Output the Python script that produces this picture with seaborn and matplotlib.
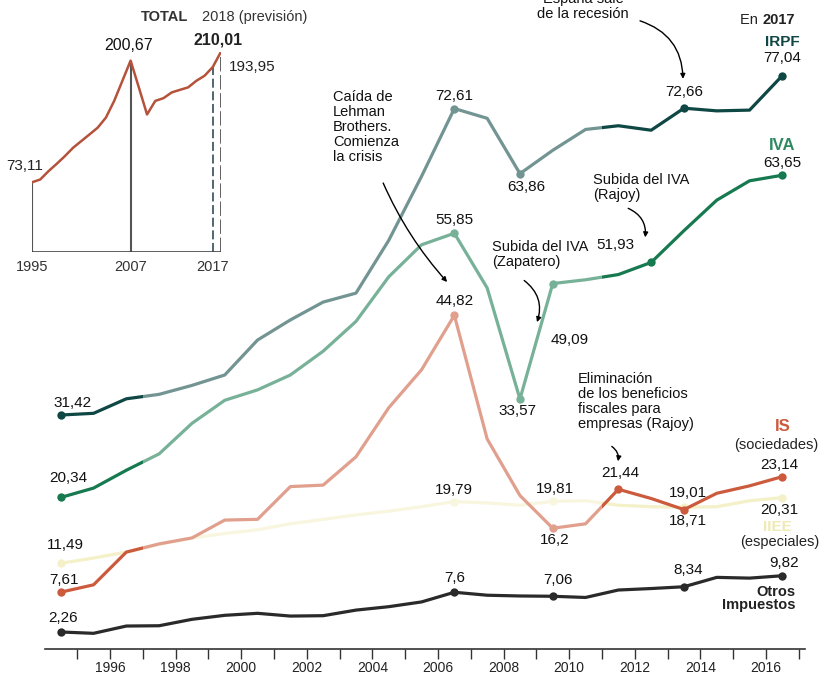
import pandas as pd
import matplotlib
matplotlib.use("Agg")
import matplotlib.pyplot as plt
import seaborn as sns
from matplotlib.patches import Rectangle

# Recaudación por impuesto (miles de millones de euros)
years = list(range(1995, 2018))
irpf = [31.42, 31.65, 33.6, 34.2, 35.4, 36.8, 41.5, 44.2, 46.6, 47.8, 54.9, 63.5,
        72.61, 71.3, 63.86, 67.0, 69.8, 70.3, 69.7, 72.66, 72.3, 72.4, 77.04]
iva = [20.34, 21.6, 24.0, 26.2, 30.3, 33.4, 34.8, 36.8, 40.0, 44.0, 50.0, 54.3,
       55.85, 48.5, 33.57, 49.09, 49.6, 50.3, 51.93, 56.2, 60.3, 62.9, 63.65]
is_soc = [7.61, 8.6, 13.0, 14.1, 14.9, 17.3, 17.4, 21.8, 22.0, 25.8, 32.4, 37.5,
          44.82, 28.2, 20.6, 16.2, 16.8, 21.44, 20.2, 18.71, 20.9, 21.9, 23.14]
iiee = [11.49, 12.2, 13.0, 14.0, 14.9, 15.5, 16.0, 16.8, 17.4, 18.0, 18.5, 19.1,
        19.79, 19.6, 19.3, 19.81, 19.9, 19.3, 19.1, 19.01, 19.1, 19.9, 20.31]
otros = [2.26, 2.08, 3.06, 3.1, 3.96, 4.5, 4.77, 4.4, 4.45, 5.2, 5.66, 6.3,
         7.6, 7.2, 7.1, 7.06, 6.9, 7.9, 8.1, 8.34, 9.6, 9.5, 9.82]

# Total (inset), 2018 = previsión
total_years = list(range(1995, 2019))
total = [73.11, 76.0, 84.7, 92.4, 100.5, 109.3, 116.3, 123.3, 130.4, 141.0, 158.4, 179.5,
         200.67, 172.6, 144.2, 158.4, 161.3, 167.3, 170.0, 172.6, 179.5, 184.8, 193.95, 210.01]

series = {'IIEE': iiee, 'Otros': otros, 'IS': is_soc, 'IVA': iva, 'IRPF': irpf}
colors = {'IRPF': '#0e4744', 'IVA': '#16794f', 'IS': '#cc5a3d',
          'IIEE': '#f4f0c8', 'Otros': '#2a2a2a'}

# labelled points: serie, año, texto, desplazamiento (px)
labels = [
    ('IIEE', 1995, '11,49', 5, 18), ('IIEE', 2007, '19,79', 0, 12),
    ('IIEE', 2010, '19,81', 2, 12), ('IIEE', 2014, '19,01', 4, 14),
    ('IIEE', 2017, '20,31', -3, -12),
    ('Otros', 1995, '2,26', 2, 14), ('Otros', 2007, '7,6', 0, 14),
    ('Otros', 2010, '7,06', 5, 16), ('Otros', 2014, '8,34', 4, 17),
    ('Otros', 2017, '9,82', 2, 13),
    ('IS', 1995, '7,61', 3, 12), ('IS', 2007, '44,82', 0, 14),
    ('IS', 2010, '16,2', 2, -12), ('IS', 2012, '21,44', 2, 16),
    ('IS', 2014, '18,71', 4, -11), ('IS', 2017, '23,14', -3, 12),
    ('IVA', 1995, '20,34', 8, 19), ('IVA', 2007, '55,85', 0, 13),
    ('IVA', 2009, '33,57', -3, -12), ('IVA', 2010, '49,09', 17, -56),
    ('IVA', 2013, '51,93', -36, 17), ('IVA', 2017, '63,65', 0, 12),
    ('IRPF', 1995, '31,42', 12, 12), ('IRPF', 2007, '72,61', 0, 13),
    ('IRPF', 2009, '63,86', 6, -13), ('IRPF', 2014, '72,66', 0, 16),
    ('IRPF', 2017, '77,04', 0, 18),
]

sns.set_theme(style="white")
plt.rcParams['font.family'] = ['Liberation Sans', 'DejaVu Sans']

fig = plt.figure(figsize=(8.21, 6.78), dpi=100)
ax = fig.add_axes([45 / 821, 1 - 648.8 / 678, 760 / 821, 648.8 / 678])

df = pd.DataFrame({'year': years, **series})
df = df.melt(id_vars='year', var_name='impuesto', value_name='valor')
df['x'] = df['year'] - 0.5

# one call per series so the stacking order is explicit
for i, name in enumerate(series):
    sns.lineplot(data=df[df['impuesto'] == name], x='x', y='valor',
                 color=colors[name], linewidth=2.3, ax=ax, zorder=2 + i * 0.1)

# dots on the labelled points
pts = pd.DataFrame([(s, y, series[s][years.index(y)]) for s, y, *_ in labels],
                   columns=['impuesto', 'year', 'valor'])
pts['x'] = pts['year'] - 0.5
for i, name in enumerate(series):
    sns.scatterplot(data=pts[pts['impuesto'] == name], x='x', y='valor',
                    color=colors[name], s=36, linewidth=0, ax=ax,
                    zorder=2.05 + i * 0.1)

# washed-out middle section
ax.add_patch(Rectangle((1997.0, 9.6), 14.0, 80, color='white', alpha=0.42,
                       lw=0, zorder=3))

for s, y, txt, dx, dy in labels:
    ax.annotate(txt, (y - 0.5, series[s][years.index(y)]), xytext=(dx, dy),
                textcoords='offset pixels', ha='center', va='center',
                fontsize=11, color='#111111', zorder=6)

def tag(s, txt, dx, dy, **kw):
    ax.annotate(txt, (2016.5, series[s][-1]), xytext=(dx, dy),
                textcoords='offset pixels', va='center', zorder=6, **kw)

tag('IRPF', 'IRPF', 0, 34, ha='center', fontsize=11, fontweight='bold', color='#0e4744')
tag('IVA', 'IVA', 0, 30, ha='center', fontsize=12, fontweight='bold', color='#2f8a63')
tag('IS', 'IS', 0, 50, ha='center', fontsize=12, fontweight='bold', color='#cc5a3d')
tag('IS', '(sociedades)', -6, 32, ha='center', fontsize=10.5, color='#222222')
tag('IIEE', 'IIEE', -5, -29, ha='center', fontsize=11, fontweight='bold', color='#efe9b4')
tag('IIEE', '(especiales)', -3, -44, ha='center', fontsize=10.5, color='#222222')
tag('Otros', 'Otros\nImpuestos', 13, -23, ha='right', fontsize=10.5,
    fontweight='bold', color='#222222', linespacing=0.95)

ax.text(2015.88, 84.5, 'En ', ha='right', va='center', fontsize=10.5, color='#222222')
ax.text(2015.9, 84.5, '2017', ha='left', va='center', fontsize=10.5,
        fontweight='bold', color='#222222')

# notes with arrows
arrow = dict(arrowstyle='-|>', color='black', lw=1, mutation_scale=7,
             shrinkA=0, shrinkB=0)
note_kw = dict(fontsize=10.5, color='#111111', linespacing=1.1, zorder=6)

ax.text(2002.8, 75.1, 'Caída de\nLehman\nBrothers.\nComienza\nla crisis',
        ha='left', va='top', **note_kw)
ax.annotate('', xy=(2006.28, 49.3), xytext=(2004.33, 62.6),
            arrowprops={**arrow, 'connectionstyle': 'arc3,rad=0.08'})

ax.text(2007.65, 54.9, 'Subida del IVA\n(Zapatero)', ha='left', va='top', **note_kw)
ax.annotate('', xy=(2009.02, 43.9), xytext=(2008.63, 49.5),
            arrowprops={**arrow, 'connectionstyle': 'arc3,rad=-0.35'})

ax.text(2010.73, 63.9, 'Subida del IVA\n(Rajoy)', ha='left', va='top', **note_kw)
ax.annotate('', xy=(2012.32, 55.3), xytext=(2011.8, 59.2),
            arrowprops={**arrow, 'connectionstyle': 'arc3,rad=-0.35'})

ax.text(2010.27, 37.2, 'Eliminación\nde los beneficios\nfiscales para\nempresas (Rajoy)',
        ha='left', va='top', **note_kw)
ax.annotate('', xy=(2011.49, 25.2), xytext=(2011.3, 27.2),
            arrowprops={**arrow, 'connectionstyle': 'arc3,rad=-0.3'})

ax.text(2010.42, 88.3, 'España sale\nde la recesión', ha='center', va='top', **note_kw)
ax.annotate('', xy=(2013.47, 76.6), xytext=(2012.16, 84.4),
            arrowprops={**arrow, 'connectionstyle': 'arc3,rad=-0.35'})

ax.set_xlim(1994.02, 2017.19)
ax.set_ylim(0, 87.2)
ax.set_xticks(range(1996, 2017, 2))
ax.set_xticks(range(1995, 2018), minor=True)
ax.tick_params(axis='x', which='both', bottom=True, direction='out', length=7,
               width=1, color='#333333', labelsize=10, pad=2, labelcolor='#222222')
ax.set_yticks([])
ax.set_xlabel('')
ax.set_ylabel('')
sns.despine(ax=ax, left=True)
ax.spines['bottom'].set_color('#333333')
ax.spines['bottom'].set_linewidth(1.2)

# inset: total
ax_in = fig.add_axes([32 / 821, 1 - 252 / 678, 189 / 821, (252 - 51.7) / 678])
tot = pd.DataFrame({'year': total_years, 'total': total})
sns.lineplot(data=tot, x='year', y='total', color='#b5523b', linewidth=1.8,
             ax=ax_in, zorder=3)
ax_in.vlines([1995, 2007], 0, [total[0], total[12]], color='#555555', lw=1.5, zorder=2)
ax_in.vlines([2017], 0, [total[22]], color='#445a66', lw=1.3, linestyles=(0, (5, 2)), zorder=2)
ax_in.vlines([2018], 0, [total[23]], color='#555555', lw=1.3, linestyles=(0, (8, 2)), zorder=2)
ax_in.hlines(0, 1995, 2018, color='#444444', lw=1.2)
ax_in.set_xlim(1995, 2018)
ax_in.set_ylim(0, 210.01)
ax_in.axis('off')

ax_in.annotate('73,11', (1995, total[0]), xytext=(-7, 16), textcoords='offset pixels',
               ha='center', va='center', fontsize=11, color='#222222')
ax_in.annotate('200,67', (2007, total[12]), xytext=(-2, 15), textcoords='offset pixels',
               ha='center', va='center', fontsize=11.5, color='#111111')
ax_in.annotate('210,01', (2018, total[23]), xytext=(-3, 12), textcoords='offset pixels',
               ha='center', va='center', fontsize=11.5, fontweight='bold', color='#222222')
ax_in.annotate('193,95', (2017, total[22]), xytext=(16, 0), textcoords='offset pixels',
               ha='left', va='center', fontsize=11, color='#222222')
for yr in (1995, 2007, 2017):
    ax_in.annotate(str(yr), (yr, 0), xytext=(0, -15), textcoords='offset pixels',
                   ha='center', va='center', fontsize=10.5, color='#333333')

fig.text(165 / 821, 1 - 17 / 678, 'TOTAL', ha='center', va='center',
         fontsize=10.5, fontweight='bold', color='#333333')
fig.text(202 / 821, 1 - 17 / 678, '2018 (previsión)', ha='left', va='center',
         fontsize=10.5, color='#333333')

fig.savefig('out.png', dpi=100, facecolor='white')
